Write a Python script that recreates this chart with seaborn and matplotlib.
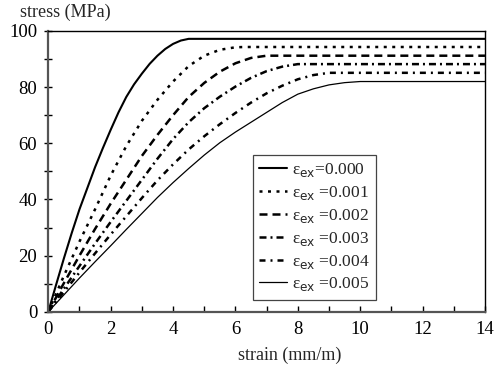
import numpy as np
import pandas as pd
import matplotlib
matplotlib.use("Agg")
import matplotlib.pyplot as plt
import seaborn as sns

# --- datos: deformacion (mm/m) y tension (MPa) ---
strain_000 = [0, 0.25, 0.5, 0.75, 1.0, 1.25, 1.5, 1.75, 2.0, 2.25, 2.5, 2.75, 3.0,
              3.25, 3.5, 3.75, 4.0, 4.25, 4.5, 14]
stress_000 = [0, 9.6, 19, 28, 36.5, 44, 51.5, 58.3, 64.8, 71, 76.5, 81, 84.8,
              88.3, 91.2, 93.6, 95.4, 96.6, 97.2, 97.2]

strain_001 = [0, 0.5, 1.0, 1.5, 2.0, 2.5, 3.0, 3.5, 4.0, 4.5, 5.0, 5.5, 6.0, 6.3, 14]
stress_001 = [0, 12.8, 25, 36.5, 48.5, 59, 68, 75.5, 82, 87.5, 91.2, 93.3, 94.2, 94.3, 94.3]

strain_002 = [0, 0.5, 1.0, 1.5, 2.0, 2.5, 3.0, 3.5, 4.0, 4.5, 5.0, 5.5, 6.0, 6.5, 7.0, 14]
stress_002 = [0, 10.2, 20, 29.5, 38.5, 47, 55.5, 63, 70, 76.5, 81.5, 85.5, 88.5, 90.4, 91.2, 91.2]

strain_003 = [0, 0.5, 1.0, 1.5, 2.0, 2.5, 3.0, 3.5, 4.0, 4.5, 5.0, 5.5, 6.0, 6.5, 7.0, 7.5, 8.0, 14]
stress_003 = [0, 8.2, 16.3, 24.3, 32, 39.5, 47, 54.5, 61.5, 67.5, 72.5, 76.6, 80.2, 83.3, 85.7, 87.3, 88.2, 88.2]

strain_004 = [0, 0.5, 1.0, 1.5, 2.0, 2.5, 3.0, 3.5, 4.0, 4.5, 5.0, 5.5, 6.0, 6.5, 7.0, 7.5, 8.0, 8.5, 9.0, 14]
stress_004 = [0, 7, 14, 20.8, 27.5, 34, 40.5, 46.8, 52.5, 57.8, 62.5, 66.8, 70.8, 74.5, 77.8, 80.5, 82.8, 84.3, 85.1, 85.1]

strain_005 = [0, 0.5, 1.0, 1.5, 2.0, 2.5, 3.0, 3.5, 4.0, 4.5, 5.0, 5.5, 6.0, 6.5, 7.0, 7.5, 8.0, 8.5, 9.0, 9.5, 10.0, 14]
stress_005 = [0, 6, 12, 17.8, 23.5, 29.3, 35, 40.7, 46, 51, 55.8, 60.2, 64, 67.5, 71, 74.5, 77.5, 79.4, 80.8, 81.6, 82, 82]

etiquetas = ["0.000", "0.001", "0.002", "0.003", "0.004", "0.005"]

curvas = [
    (strain_000, stress_000, "-", 1.5),
    (strain_001, stress_001, (0, (1.2, 2.2)), 1.8),
    (strain_002, stress_002, (0, (3.2, 2.0)), 1.8),
    (strain_003, stress_003, (0, (2.8, 1.6, 0.8, 1.6)), 1.8),
    (strain_004, stress_004, (0, (2.4, 2.0, 0.8, 2.0)), 1.8),
    (strain_005, stress_005, "-", 0.9),
]

sns.set_theme(style="ticks")
plt.rcParams["font.family"] = ["Liberation Serif", "DejaVu Serif"]
serif = ["Liberation Serif", "DejaVu Serif"]

fig = plt.figure(figsize=(5.01, 3.72), dpi=100)
ax = fig.add_axes([0.0964, 0.162, 0.8716, 0.7547])

for (x, y, ls, lw), lab in zip(curvas, etiquetas):
    sep = "" if lab == "0.000" else " "
    sns.lineplot(x=x, y=y, ax=ax, color="black", linestyle=ls, linewidth=lw,
                 estimator=None, sort=False,
                 label="ε$_{\\mathrm{ex}}$" + sep + "=" + lab)

ax.set_xlim(0, 14)
ax.set_ylim(0, 100)
ax.set_xticks(np.arange(0, 15, 2))
ax.set_xticks(np.arange(0, 15, 1), minor=True)
ax.set_yticks(np.arange(0, 101, 20))
ax.set_yticks(np.arange(0, 101, 10), minor=True)
ax.tick_params(axis="x", which="both", direction="in", length=4, width=1,
               labelsize=13.5, pad=7, colors="black", labelfontfamily=serif)
ax.tick_params(axis="y", which="both", direction="inout", length=6, width=1,
               labelsize=13.5, pad=5, colors="black", labelfontfamily=serif)
for s in ["left", "bottom"]:
    ax.spines[s].set_linewidth(1.6)
    ax.spines[s].set_color("#555555")
for s in ["top", "right"]:
    ax.spines[s].set_visible(True)
    ax.spines[s].set_linewidth(1.0)
    ax.spines[s].set_color("black")

ax.set_xlabel("strain (mm/m)", fontsize=13, family=serif)
ax.xaxis.set_label_coords(0.553, -0.125)
ax.set_ylabel("")
ax.text(0.038, 1.068, "stress (MPa)", transform=ax.transAxes, ha="center",
        va="center", fontsize=13, family=serif)

leg = ax.legend(loc="upper left", bbox_to_anchor=(0.469, 0.558), frameon=True,
                fancybox=False, edgecolor="#444444", framealpha=1,
                prop={"family": serif, "size": 12.5},
                handlelength=1.6, handletextpad=0.3, labelspacing=0.28,
                borderpad=0.35, borderaxespad=0)
leg.get_frame().set_linewidth(0.9)

fig.savefig("out.png", dpi=100)
